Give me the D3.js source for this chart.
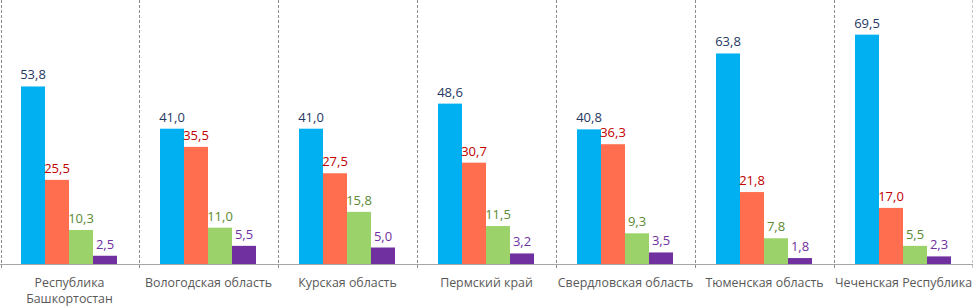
<!DOCTYPE html>
<html>
<head>
<meta charset="utf-8">
<script src="https://cdn.jsdelivr.net/npm/d3@7"></script>
<style>
  body { margin: 0; background: #fff; }
  svg { display: block; }
  .val { font-family: "Open Sans", sans-serif; font-size: 13px; }
  .cat { font-family: "Open Sans", sans-serif; font-size: 12.4px; fill: #595959; }
</style>
</head>
<body>
<div class="chart-container"></div>
<script>
// region names (line breaks for wrapped labels)
var regions = [
  ["Республика", "Башкортостан"],
  ["Вологодская область"],
  ["Курская область"],
  ["Пермский край"],
  ["Свердловская область"],
  ["Тюменская область"],
  ["Чеченская Республика"]
];
var seriesNames = ["s1", "s2", "s3", "s4"];
var s1 = [53.8, 41.0, 41.0, 48.6, 40.8, 63.8, 69.5];
var s2 = [25.5, 35.5, 27.5, 30.7, 36.3, 21.8, 17.0];
var s3 = [10.3, 11.0, 15.8, 11.5, 9.3, 7.8, 5.5];
var s4 = [2.5, 5.5, 5.0, 3.2, 3.5, 1.8, 2.3];

var barColors = ["#00b0f0", "#ff6f4f", "#9bd36a", "#7030a0"];
var labelColors = ["#1f3864", "#c00000", "#5a8a32", "#7030a0"];

(function drawChart() {
  var width = 973, height = 306;
  var baseY = 264;

  var svg = d3.select(".chart-container").append("svg")
    .attr("width", width)
    .attr("height", height);

  var idx = d3.range(regions.length);
  var x0 = d3.scaleBand().domain(idx).range([0, width]);
  var x1 = d3.scaleBand().domain(seriesNames).range([21, 117]);
  var y = d3.scaleLinear().domain([0, 80]).range([baseY, 0]);

  var allSeries = [s1, s2, s3, s4];
  var rows = [];
  idx.forEach(function (i) {
    allSeries.forEach(function (s, k) {
      rows.push({ cat: i, k: k, key: seriesNames[k], v: s[i] });
    });
  });

  // dashed separators
  var seps = idx.map(function (i) { return x0(i); }).concat([width - 0.5]);
  svg.selectAll(".sep").data(seps).enter().append("line")
    .attr("x1", function (d) { return Math.max(d, 1) + 0.5; })
    .attr("x2", function (d) { return Math.max(d, 1) + 0.5; })
    .attr("y1", 0)
    .attr("y2", baseY + 5)
    .attr("stroke", "#8c8c8c")
    .attr("stroke-width", 1)
    .attr("stroke-dasharray", "3,2");

  // baseline
  svg.append("line")
    .attr("x1", 0).attr("x2", width)
    .attr("y1", baseY + 0.5).attr("y2", baseY + 0.5)
    .attr("stroke", "#a6a6a6");

  // bars
  svg.selectAll(".bar").data(rows).enter().append("rect")
    .attr("class", "bar")
    .attr("x", function (d) { return x0(d.cat) + x1(d.key); })
    .attr("y", function (d) { return y(d.v); })
    .attr("width", x1.bandwidth())
    .attr("height", function (d) { return baseY - y(d.v); })
    .attr("fill", function (d) { return barColors[d.k]; });

  // value labels
  svg.selectAll(".val").data(rows).enter().append("text")
    .attr("class", "val")
    .attr("x", function (d) { return x0(d.cat) + x1(d.key) + x1.bandwidth() / 2; })
    .attr("y", function (d) { return y(d.v) - 7; })
    .attr("text-anchor", "middle")
    .attr("fill", function (d) { return labelColors[d.k]; })
    .text(function (d) { return d.v.toFixed(1).replace(".", ","); });

  // category labels
  var cats = svg.selectAll(".cat").data(idx).enter().append("text")
    .attr("class", "cat")
    .attr("text-anchor", "middle")
    .attr("x", function (i) { return x0(i) + x0.bandwidth() / 2; })
    .attr("y", 287);
  cats.selectAll("tspan").data(function (i) { return regions[i]; }).enter().append("tspan")
    .attr("x", function () { return +d3.select(this.parentNode).attr("x"); })
    .attr("dy", function (d, j) { return j === 0 ? 0 : 16; })
    .text(function (d) { return d; });
})();
</script>
</body>
</html>
